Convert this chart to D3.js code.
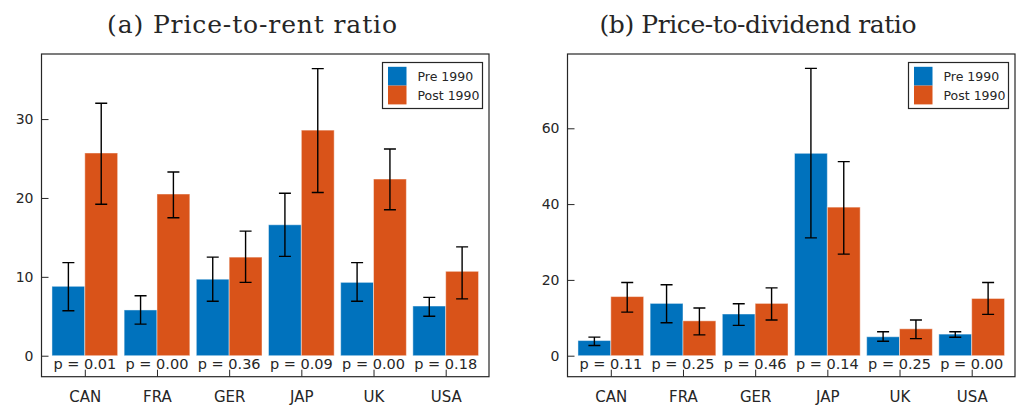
<!DOCTYPE html>
<html>
<head>
<meta charset="utf-8">
<script src="https://cdn.jsdelivr.net/npm/d3@7"></script>
<style>
  body { margin: 0; background: #fff; }
  svg { display: block; }
  text { fill: #262626; }
</style>
</head>
<body>
<div id="chart"></div>
<script>
// categories
const countries = ["CAN", "FRA", "GER", "JAP", "UK", "USA"];
const seriesNames = ["Pre 1990", "Post 1990"];

// (a) price-to-rent
const rentPre = [8.8, 5.8, 9.7, 16.6, 9.3, 6.3];
const rentPreLo = [5.7, 4.0, 6.9, 12.6, 6.9, 5.0];
const rentPreHi = [11.8, 7.6, 12.5, 20.6, 11.8, 7.4];
const rentPost = [25.7, 20.5, 12.5, 28.6, 22.4, 10.7];
const rentPostLo = [19.2, 17.5, 9.3, 20.7, 18.5, 7.2];
const rentPostHi = [32.0, 23.3, 15.8, 36.4, 26.2, 13.8];
const rentP = ["0.01", "0.00", "0.36", "0.09", "0.00", "0.18"];
const rentTicks = [0, 10, 20, 30];

// (b) price-to-dividend
const divPre = [4.0, 13.8, 11.0, 53.4, 5.0, 5.7];
const divPreLo = [2.7, 8.7, 8.0, 31.1, 3.8, 4.85];
const divPreHi = [4.9, 18.7, 13.7, 75.8, 6.3, 6.3];
const divPost = [15.6, 9.2, 13.8, 39.2, 7.1, 15.1];
const divPostLo = [11.5, 5.5, 9.4, 26.8, 4.5, 10.9];
const divPostHi = [19.3, 12.6, 17.9, 51.2, 9.4, 19.3];
const divP = ["0.11", "0.25", "0.46", "0.14", "0.25", "0.00"];
const divTicks = [0, 20, 40, 60];

const width = 1023;
const height = 407;
const colors = ["#0072BD", "#D95319"];
const ink = "#262626";

const svg = d3.select("#chart")
    .append("svg")
        .attr("width", width)
        .attr("height", height)
        .attr("viewBox", [0, 0, width, height]);

function panel(opts) {
    const left = opts.left, right = opts.left + 447.5;
    const top = 54, bottom = 376.7;

    const x = d3.scaleLinear().domain([0.4, 6.6]).range([left, right]);
    const y = d3.scaleLinear().domain(opts.yDomain).range([bottom, top]);
    const bw = 0.455;

    const g = svg.append("g");

    // title (serif, like the LaTeX one)
    g.append("text")
        .attr("x", opts.titleX)
        .attr("y", 33)
        .attr("text-anchor", "middle")
        .attr("font-family", "'DejaVu Serif', serif")
        .attr("font-size", 25)
        .attr("textLength", opts.titleLen)
        .attr("lengthAdjust", "spacing")
        .text(opts.title);

    // one row per bar
    const rows = [];
    countries.forEach((c, i) => {
        opts.series.forEach((s, k) => {
            rows.push({
                c: c, k: k,
                x0: (i + 1) + (k === 0 ? -bw : 0),
                v: s.v[i], lo: s.lo[i], hi: s.hi[i]
            });
        });
    });

    g.append("g")
        .selectAll("rect")
        .data(rows)
        .join("rect")
            .attr("x", d => x(d.x0))
            .attr("width", d => x(d.x0 + bw) - x(d.x0))
            .attr("y", d => y(d.v))
            .attr("height", d => y(0) - y(d.v))
            .attr("fill", d => colors[d.k])
            .attr("stroke", "#fff")
            .attr("stroke-opacity", 0.45)
            .attr("stroke-width", 1);

    // error bars
    g.append("g")
            .attr("stroke", "#000")
            .attr("stroke-width", 1.4)
            .attr("fill", "none")
        .selectAll("path")
        .data(rows)
        .join("path")
            .attr("d", d => {
                const cx = x(d.x0 + bw / 2);
                const yl = y(d.lo), yh = y(d.hi);
                return `M${cx - 6},${yh}H${cx + 6}M${cx},${yh}V${yl}M${cx - 6},${yl}H${cx + 6}`;
            });

    // p-values
    g.append("g")
        .selectAll("text")
        .data(opts.p)
        .join("text")
            .attr("x", (d, i) => x(i + 1))
            .attr("y", y(0) + 13.6)
            .attr("text-anchor", "middle")
            .attr("font-family", "'DejaVu Sans', sans-serif")
            .attr("font-size", 14.5)
            .text(d => "p = " + d);

    // y axis, ticks pointing in
    const yAxis = g.append("g")
        .attr("transform", `translate(${left},0)`)
        .call(d3.axisLeft(y).tickValues(opts.ticks).tickSize(-7).tickPadding(8).tickFormat(d3.format("d")));
    yAxis.select(".domain").remove();
    yAxis.selectAll("line").attr("stroke", ink);
    yAxis.selectAll("text")
        .attr("font-family", "'DejaVu Sans', sans-serif")
        .attr("font-size", 14)
        .attr("fill", ink);

    // x axis
    const xAxis = g.append("g")
        .attr("transform", `translate(0,${bottom})`)
        .call(d3.axisBottom(x).tickValues(d3.range(1, countries.length + 1))
            .tickSize(-7).tickPadding(14.5).tickFormat(d => countries[d - 1]));
    xAxis.select(".domain").remove();
    xAxis.selectAll("line").attr("stroke", ink);
    xAxis.selectAll("text")
        .attr("font-family", "'DejaVu Sans', sans-serif")
        .attr("font-size", 15)
        .attr("fill", ink);

    // box
    g.append("rect")
        .attr("x", left)
        .attr("y", top)
        .attr("width", right - left)
        .attr("height", bottom - top)
        .attr("fill", "none")
        .attr("stroke", ink)
        .attr("stroke-width", 1.2);

    // legend
    const lx = right - 106.5, ly = top + 8.5;
    const lg = g.append("g").attr("transform", `translate(${lx},${ly})`);
    lg.append("rect")
        .attr("width", 100)
        .attr("height", 46)
        .attr("fill", "#fff")
        .attr("stroke", ink)
        .attr("stroke-width", 1.2);
    const item = lg.selectAll("g")
        .data(seriesNames)
        .join("g")
            .attr("transform", (d, i) => `translate(5.5,${4.3 + i * 18.8})`);
    item.append("rect")
        .attr("width", 18.5)
        .attr("height", 18.8)
        .attr("fill", (d, i) => colors[i]);
    item.append("text")
        .attr("x", 29.5)
        .attr("y", 9.6)
        .attr("dy", "0.36em")
        .attr("font-family", "'DejaVu Sans', sans-serif")
        .attr("font-size", 12.5)
        .text(d => d);
}

panel({
    left: 41.5,
    titleX: 252,
    titleLen: 290,
    title: "(a) Price-to-rent ratio",
    yDomain: [-2.66, 38.25],
    ticks: rentTicks,
    p: rentP,
    series: [
        { v: rentPre, lo: rentPreLo, hi: rentPreHi },
        { v: rentPost, lo: rentPostLo, hi: rentPostHi }
    ]
});

panel({
    left: 567.5,
    titleX: 758,
    titleLen: 317,
    title: "(b) Price-to-dividend ratio",
    yDomain: [-5.54, 79.6],
    ticks: divTicks,
    p: divP,
    series: [
        { v: divPre, lo: divPreLo, hi: divPreHi },
        { v: divPost, lo: divPostLo, hi: divPostHi }
    ]
});
</script>
</body>
</html>
